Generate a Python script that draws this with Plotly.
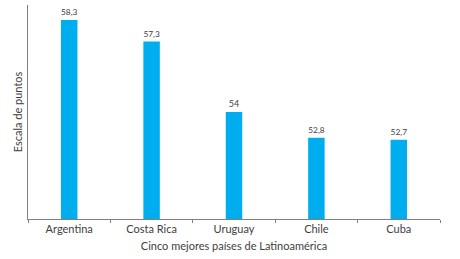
import plotly.graph_objects as go

countries = ["Argentina", "Costa Rica", "Uruguay", "Chile", "Cuba"]
values = [58.3, 57.3, 54.0, 52.8, 52.7]
labels = ["58,3", "57,3", "54", "52,8", "52,7"]

fig = go.Figure(go.Bar(
    x=countries, y=values, text=labels, textposition="outside",
    textfont=dict(size=9, color="#404040"),
    marker=dict(color="#00AEEF", line=dict(width=0)),
    width=0.2, cliponaxis=False,
))

fig.update_layout(
    width=460, height=259,
    margin=dict(l=28, r=20, t=5, b=40, autoexpand=False),
    paper_bgcolor="white", plot_bgcolor="white",
    font=dict(family="Lato, Open Sans, sans-serif", color="#404040"),
    showlegend=False,
)
fig.update_xaxes(
    automargin=False,
    showline=True, linecolor="#808080", linewidth=1,
    ticks="outside", ticklen=3, tickcolor="#808080",
    tickson="boundaries", tickfont=dict(size=11),
    title=dict(text="Cinco mejores países de Latinoamérica", font=dict(size=11), standoff=8),
    showgrid=False,
)
fig.update_yaxes(
    automargin=False,
    range=[49, 59], showline=True, linecolor="#808080", linewidth=1,
    showticklabels=False, showgrid=False, zeroline=False, ticks="",
    title=dict(text="Escala de puntos", font=dict(size=11), standoff=2),
)
fig.write_html("out.html", config={"displayModeBar": False},
               post_script="document.body.style.margin='0';")
